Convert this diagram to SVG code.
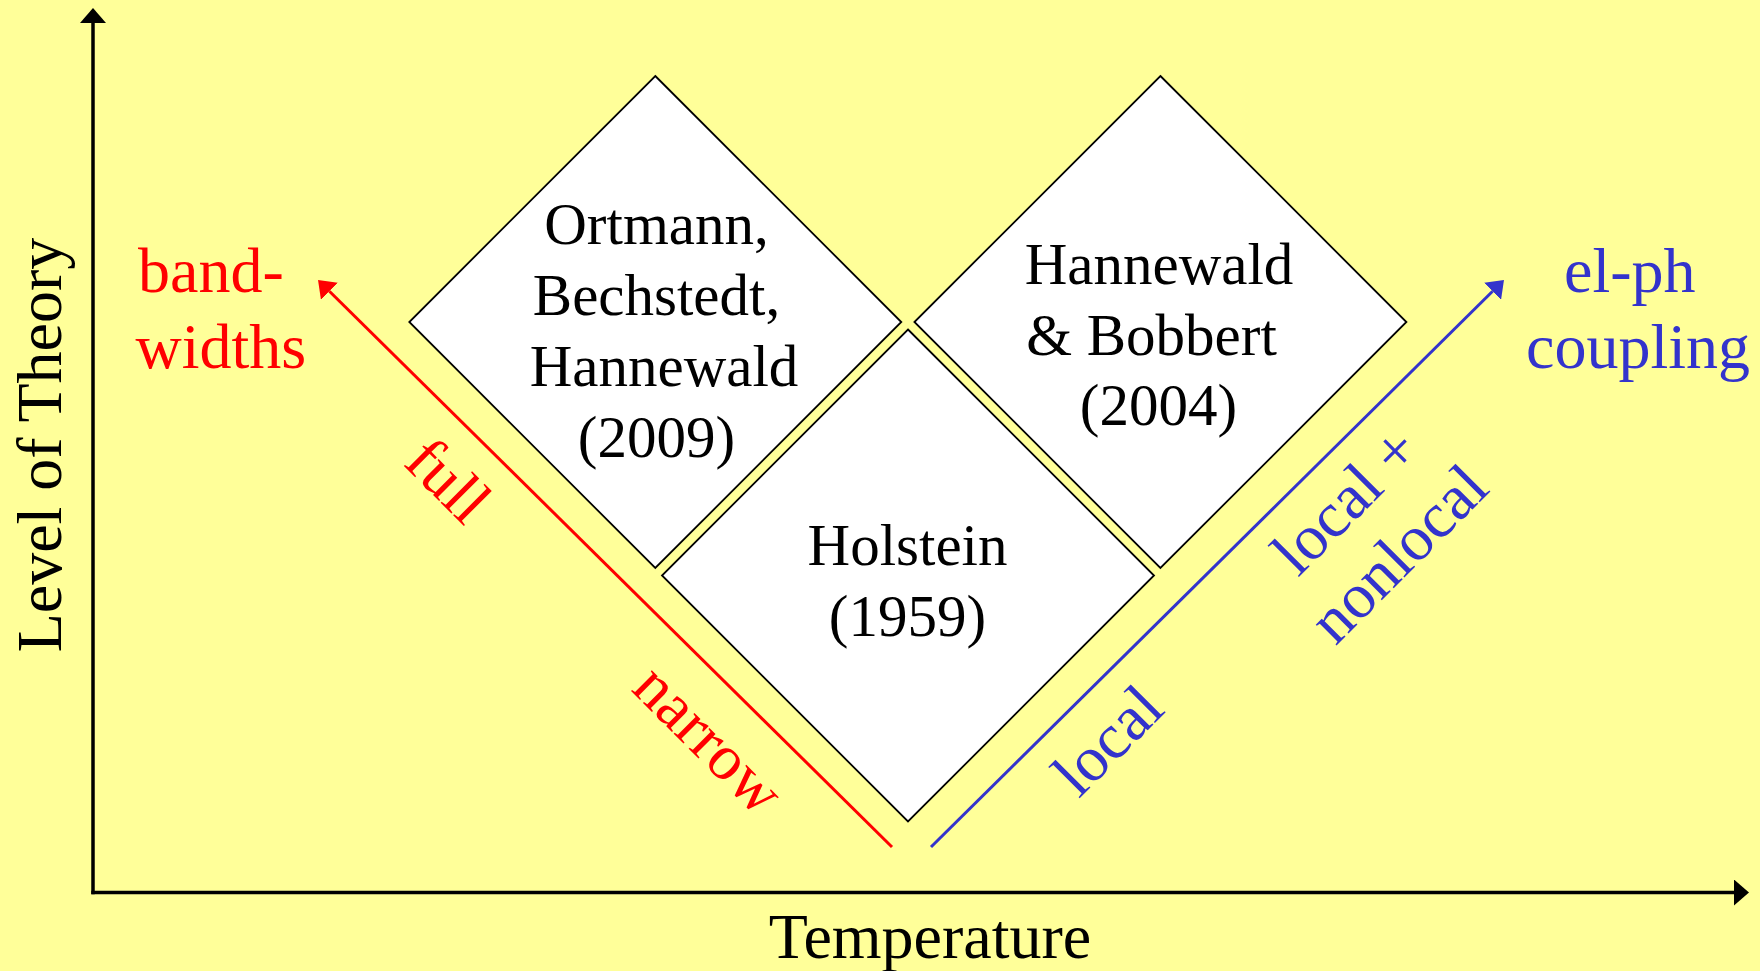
<svg xmlns="http://www.w3.org/2000/svg" width="1760" height="971" viewBox="0 0 1760 971">
  <defs>
    <style>
      text { font-family: "Liberation Serif", "Times New Roman", serif; }
      .diamond { fill: #FFFFFF; stroke: #000000; stroke-width: 1.8; }
      .dtext { font-size: 59px; fill: #000000; text-anchor: middle; }
      .axis { stroke: #000000; stroke-width: 3.5; fill: none; }
      .axlabel { font-size: 64px; fill: #000000; text-anchor: middle; }
      .red { stroke: #FF0000; stroke-width: 3; fill: none; }
      .blue { stroke: #3333CC; stroke-width: 3; fill: none; }
      .rtext { font-size: 64px; fill: #FF0000; }
      .btext { font-size: 64px; fill: #3333CC; }
    </style>
    <marker id="axhead" markerUnits="userSpaceOnUse" viewBox="0 0 15 26" refX="0" refY="13" markerWidth="15" markerHeight="26" orient="auto">
      <path d="M0,0 L15,13 L0,26 Z" fill="#000000"/>
    </marker>
    <marker id="redhead" markerUnits="userSpaceOnUse" viewBox="0 0 16 24" refX="0" refY="12" markerWidth="16" markerHeight="24" orient="auto">
      <path d="M0,0 L16,12 L0,24 Z" fill="#FF0000"/>
    </marker>
    <marker id="bluehead" markerUnits="userSpaceOnUse" viewBox="0 0 16 24" refX="0" refY="12" markerWidth="16" markerHeight="24" orient="auto">
      <path d="M0,0 L16,12 L0,24 Z" fill="#3333CC"/>
    </marker>
  </defs>

  <rect x="0" y="0" width="1760" height="971" fill="#FFFF99"/>

  <g id="axes">
    <line class="axis" x1="93" y1="894.2" x2="93" y2="23" marker-end="url(#axhead)"/>
    <line class="axis" x1="91.3" y1="892.5" x2="1734" y2="892.5" marker-end="url(#axhead)"/>
    <text class="axlabel" x="930" y="958">Temperature</text>
    <text class="axlabel" transform="translate(61,445) rotate(-90)" x="0" y="0">Level of Theory</text>
  </g>

  <g id="connectors">
    <line class="red" x1="892" y1="847" x2="329.4" y2="291.2" marker-end="url(#redhead)"/>
    <line class="blue" x1="931" y1="847" x2="1492.6" y2="291.3" marker-end="url(#bluehead)"/>
  </g>

  <g id="node-ortmann">
    <polygon class="diamond" points="655.3,76 901.3,322 655.3,568 409.3,322"/>
    <text class="dtext" x="656.5" y="244">Ortmann,</text>
    <text class="dtext" x="656.5" y="315">Bechstedt,</text>
    <text class="dtext" x="664" y="386">Hannewald</text>
    <text class="dtext" x="656.5" y="457">(2009)</text>
  </g>

  <g id="node-hannewald-bobbert">
    <polygon class="diamond" points="1160.4,76 1406.4,322 1160.4,568 914.4,322"/>
    <text class="dtext" x="1159" y="284">Hannewald</text>
    <text class="dtext" x="1151.5" y="355">&amp; Bobbert</text>
    <text class="dtext" x="1158.5" y="425">(2004)</text>
  </g>

  <g id="node-holstein">
    <polygon class="diamond" points="908,329.5 1154,575.5 908,821.5 662,575.5"/>
    <text class="dtext" x="907.5" y="565">Holstein</text>
    <text class="dtext" x="907.5" y="636">(1959)</text>
  </g>

  <g id="label-bandwidths">
    <text class="rtext" x="138" y="292">band-</text>
    <text class="rtext" x="135.5" y="368">widths</text>
  </g>

  <g id="label-elph">
    <text class="btext" x="1564" y="292">el-ph</text>
    <text class="btext" x="1526" y="368">coupling</text>
  </g>

  <g id="label-full">
    <text class="rtext" text-anchor="middle" transform="translate(433.5,495.5) rotate(45)" x="0" y="0">full</text>
  </g>
  <g id="label-narrow">
    <text class="rtext" text-anchor="middle" transform="translate(694,754) rotate(45)" x="0" y="0">narrow</text>
  </g>
  <g id="label-local">
    <text class="btext" text-anchor="middle" transform="translate(1122.6,755.4) rotate(-45)" x="0" y="0">local</text>
  </g>
  <g id="label-local-nonlocal">
    <g transform="translate(1360.5,515.5) rotate(-45)">
      <text class="btext" text-anchor="middle" x="0" y="0">local +</text>
      <text class="btext" text-anchor="middle" x="0" y="75">nonlocal</text>
    </g>
  </g>
</svg>
